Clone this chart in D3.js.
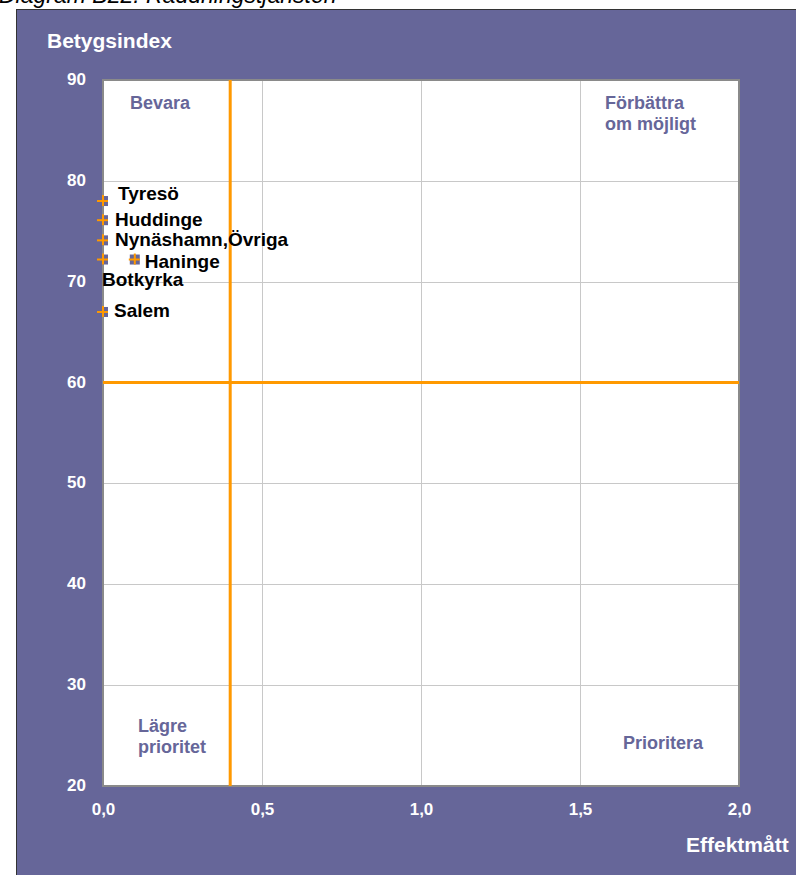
<!DOCTYPE html>
<html>
<head>
<meta charset="utf-8">
<script src="https://cdn.jsdelivr.net/npm/d3@7"></script>
<style>
    body { margin: 0; background: #ffffff; }
    svg text { font-family: "Liberation Sans", Arial, sans-serif; }
</style>
</head>
<body>
<svg id="chart-svg"></svg>
<script>
// data
const kommuner = ["Tyresö", "Huddinge", "Nynäshamn,Övriga", "Botkyrka", "Haninge", "Salem"];
const effektmatt = [0.0, 0.0, 0.0, 0.0, 0.1, 0.0];
const betygsindex = [78.0, 76.1, 74.1, 72.2, 72.2, 67.0];

const xTicks = [0, 0.5, 1.0, 1.5, 2.0];
const yTicks = [20, 30, 40, 50, 60, 70, 80, 90];

// quadrant split lines
const xSplit = 0.4;
const ySplit = 60;

const quadrantNames = [["Bevara"], ["Förbättra", "om möjligt"], ["Lägre", "prioritet"], ["Prioritera"]];
// anchor of each quadrant text (data coords)
const quadrantX = [0.085, 1.579, 0.11, 1.635];
const quadrantY = [87.1, 87.1, 25.4, 23.7];

// label nudges in px (dx, dy) for the point labels
const labelDx = [15, 12, 12, -1, 10, 11];
const labelDy = [-1, 6, 6, 26, 8, 5];

const width = 796, height = 875;
const svg = d3.select("#chart-svg")
    .attr("width", width)
    .attr("height", height);

const purple = "#666699";
const orange = "#ff9900";

// title (mostly cut off at top, as in the original)
svg.append("text")
    .attr("x", -1)
    .attr("y", 3)
    .attr("font-size", 23)
    .attr("font-style", "italic")
    .attr("fill", "#000")
    .text("Diagram B22. Räddningstjänsten");

// purple panel
svg.append("rect")
    .attr("x", 16.5)
    .attr("y", 9.5)
    .attr("width", width)
    .attr("height", height)
    .attr("fill", purple)
    .attr("stroke", "#333")
    .attr("stroke-width", 1);

const plot = { left: 103, right: 739, top: 80, bottom: 786 };

const x = d3.scaleLinear().domain([0, 2]).range([plot.left, plot.right]);
const y = d3.scaleLinear().domain([20, 90]).range([plot.bottom, plot.top]);

// white plot area
svg.append("rect")
    .attr("x", plot.left)
    .attr("y", plot.top)
    .attr("width", plot.right - plot.left)
    .attr("height", plot.bottom - plot.top)
    .attr("fill", "#fff");

// grid
const grid = svg.append("g");
grid.selectAll(".gx")
    .data(xTicks.slice(1, -1))
    .enter()
    .append("line")
    .attr("x1", d => Math.round(x(d)) + 0.5)
    .attr("x2", d => Math.round(x(d)) + 0.5)
    .attr("y1", plot.top)
    .attr("y2", plot.bottom)
    .attr("stroke", "#c8c8c8");
grid.selectAll(".gy")
    .data(yTicks.slice(1, -1))
    .enter()
    .append("line")
    .attr("x1", plot.left)
    .attr("x2", plot.right)
    .attr("y1", d => Math.round(y(d)) + 0.5)
    .attr("y2", d => Math.round(y(d)) + 0.5)
    .attr("stroke", "#c8c8c8");

// plot border
svg.append("rect")
    .attr("x", plot.left)
    .attr("y", plot.top)
    .attr("width", plot.right - plot.left)
    .attr("height", plot.bottom - plot.top)
    .attr("fill", "none")
    .attr("stroke", "#8a8a8a")
    .attr("stroke-width", 2);

// orange split lines
svg.append("line")
    .attr("x1", x(xSplit)).attr("x2", x(xSplit))
    .attr("y1", plot.top).attr("y2", plot.bottom)
    .attr("stroke", orange).attr("stroke-width", 3);
svg.append("line")
    .attr("x1", plot.left).attr("x2", plot.right)
    .attr("y1", y(ySplit)).attr("y2", y(ySplit))
    .attr("stroke", orange).attr("stroke-width", 3);

// axes (labels only)
const xAxis = d3.axisBottom(x)
    .tickValues(xTicks)
    .tickSize(0)
    .tickPadding(0)
    .tickFormat(d => d3.format(".1f")(d).replace(".", ","));
const xg = svg.append("g")
    .attr("transform", `translate(0, ${plot.bottom})`)
    .call(xAxis);
xg.select(".domain").remove();
xg.selectAll("text")
    .attr("dy", null)
    .attr("y", 29)
    .attr("fill", "#fff")
    .attr("font-size", 17)
    .attr("font-weight", "bold")
    .attr("font-family", "Liberation Sans, Arial, sans-serif");

const yAxis = d3.axisLeft(y)
    .tickValues(yTicks)
    .tickSize(0)
    .tickPadding(17);
const yg = svg.append("g")
    .attr("transform", `translate(${plot.left}, 0)`)
    .call(yAxis);
yg.select(".domain").remove();
yg.selectAll("text")
    .attr("dy", "0.32em")
    .attr("y", -1)
    .attr("fill", "#fff")
    .attr("font-size", 17)
    .attr("font-weight", "bold")
    .attr("font-family", "Liberation Sans, Arial, sans-serif");

// axis titles
svg.append("text")
    .attr("x", 47)
    .attr("y", 48)
    .attr("fill", "#fff")
    .attr("font-size", 21)
    .attr("font-weight", "bold")
    .text("Betygsindex");
svg.append("text")
    .attr("x", 686)
    .attr("y", 852)
    .attr("fill", "#fff")
    .attr("font-size", 21)
    .attr("font-weight", "bold")
    .text("Effektmått");

// quadrant labels
quadrantNames.forEach((lines, i) => {
    const t = svg.append("text")
        .attr("x", x(quadrantX[i]))
        .attr("y", y(quadrantY[i]))
        .attr("fill", purple)
        .attr("font-size", 18)
        .attr("font-weight", "bold");
    lines.forEach((line, j) => {
        t.append("tspan")
            .attr("x", x(quadrantX[i]))
            .attr("dy", j === 0 ? 0 : 21)
            .text(line);
    });
});

// points
const points = kommuner.map((k, i) => ({ name: k, x: effektmatt[i], y: betygsindex[i], dx: labelDx[i], dy: labelDy[i] }));

const pts = svg.append("g");
pts.selectAll(".marker")
    .data(points)
    .enter()
    .append("rect")
    .attr("x", d => x(d.x) - 5)
    .attr("y", d => y(d.y) - 5)
    .attr("width", 10)
    .attr("height", 10)
    .attr("fill", purple);
pts.selectAll(".plus-h")
    .data(points)
    .enter()
    .append("line")
    .attr("x1", d => x(d.x) - 6)
    .attr("x2", d => x(d.x) + 5)
    .attr("y1", d => y(d.y))
    .attr("y2", d => y(d.y))
    .attr("stroke", orange)
    .attr("stroke-width", 2);
pts.selectAll(".plus-v")
    .data(points)
    .enter()
    .append("line")
    .attr("x1", d => x(d.x))
    .attr("x2", d => x(d.x))
    .attr("y1", d => y(d.y) - 6)
    .attr("y2", d => y(d.y) + 5)
    .attr("stroke", orange)
    .attr("stroke-width", 2);

pts.selectAll(".label")
    .data(points)
    .enter()
    .append("text")
    .attr("x", d => x(d.x) + d.dx)
    .attr("y", d => y(d.y) + d.dy)
    .attr("fill", "#000")
    .attr("font-size", 19)
    .attr("font-weight", "bold")
    .text(d => d.name);
</script>
</body>
</html>
